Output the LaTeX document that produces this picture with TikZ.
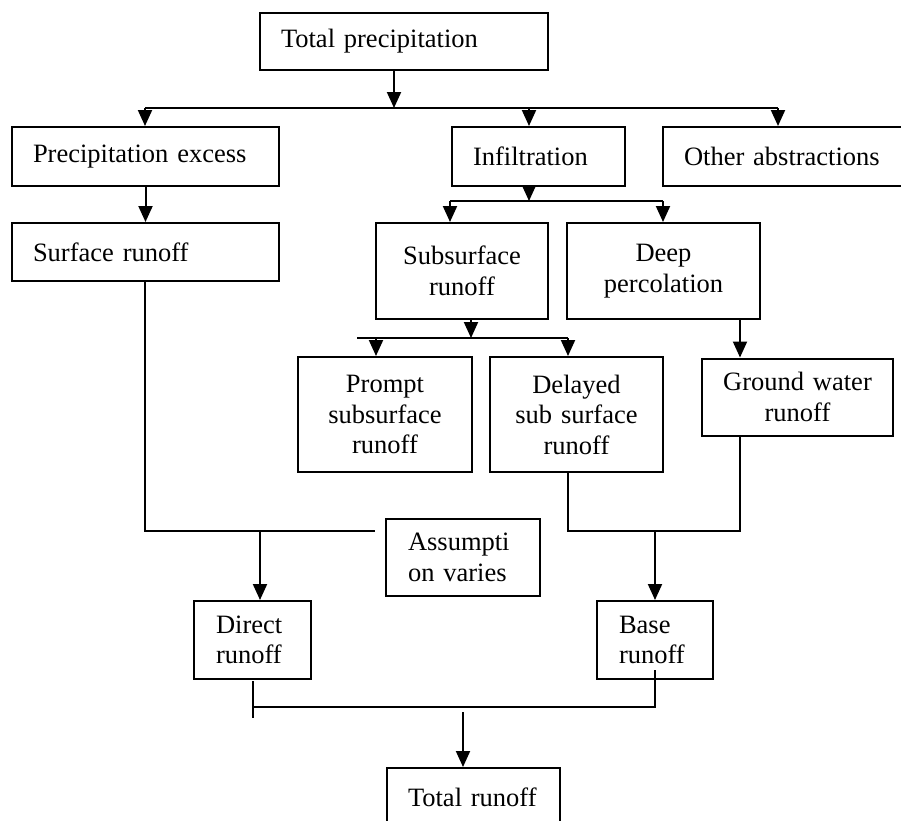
\documentclass[tikz,border=0pt]{standalone}
\usepackage{fontspec}
\setmainfont{Liberation Serif}
\usetikzlibrary{arrows.meta}
\begin{document}
\begin{tikzpicture}[x=1pt,y=-1pt,
  box/.style={draw, line width=2pt, rectangle, inner xsep=21pt, inner ysep=0pt,
    font=\fontsize{26.5}{30.5}\selectfont},
  lbox/.style={box, align=left},
  cbox/.style={box, align=center},
  conn/.style={line width=2pt},
  arr/.style={line width=2pt, -{Triangle[width=14pt,length=16pt]}}]
\useasboundingbox (0,0) rectangle (901,820);
% boxes
\node[lbox, text width=246pt, minimum width=288pt, minimum height=57pt] (tp) at (404,41.5) {Total precipitation};
\node[lbox, text width=225pt, minimum width=267pt, minimum height=59pt] (pe) at (145.5,156.5) {Precipitation excess};
\node[lbox, text width=131pt, minimum width=173pt, minimum height=59pt] (inf) at (538.5,156.5) {Infiltration};
\node[lbox, text width=200pt, minimum width=242pt, minimum height=59pt] (oa) at (784,156.5) {Other abstractions};
\node[lbox, text width=225pt, minimum width=267pt, minimum height=58pt] (sr) at (145.5,252) {Surface runoff};
\node[cbox, text width=130pt, minimum width=172pt, minimum height=96pt] (ss) at (462,271) {Subsurface\\runoff};
\node[cbox, text width=151pt, minimum width=193pt, minimum height=96pt] (dp) at (663.5,271) {Deep\\percolation};
\node[cbox, text width=132pt, minimum width=174pt, minimum height=115pt] (pr) at (385,414.5) {Prompt\\subsurface\\runoff};
\node[cbox, text width=131pt, minimum width=173pt, minimum height=115pt] (dl) at (576.5,414.5) {Delayed\\sub surface\\runoff};
\node[cbox, text width=149pt, minimum width=191pt, minimum height=77pt] (gw) at (797.5,397) {Ground water\\runoff};
\node[lbox, text width=110pt, inner xsep=22pt, minimum width=154pt, minimum height=77pt] (as) at (463,557.5) {Assumpti\\on varies};
\node[lbox, text width=73pt, inner xsep=22pt, minimum width=117pt, minimum height=78pt] (dr) at (252.5,640) {Direct\\runoff};
\node[lbox, text width=72pt, inner xsep=22pt, minimum width=116pt, minimum height=78pt] (br) at (655,640) {Base\\runoff};
\node[lbox, text width=131pt, minimum width=173pt, minimum height=58pt] (tr) at (473.5,797) {Total runoff};
% junction coordinates
\coordinate (j1) at (394,108);
\coordinate (jL) at (145,108);
\coordinate (jI) at (529,108);
\coordinate (jR) at (778,108);
\coordinate (k) at (529,201);
\coordinate (kL) at (450,201);
\coordinate (kR) at (663,201);
\coordinate (m) at (471,338);
\coordinate (mL0) at (357,338);
\coordinate (mL) at (376,338);
\coordinate (mR) at (568,338);
\coordinate (sC) at (145,531);
\coordinate (sE) at (375,531);
\coordinate (sA) at (260,531);
\coordinate (bL) at (568,531);
\coordinate (bR) at (740,531);
\coordinate (bA) at (655,531);
\coordinate (dT) at (253,681);
\coordinate (dB) at (253,718);
\coordinate (tL) at (253,707);
\coordinate (tR) at (655,707);
\coordinate (tA) at (463,712);
\coordinate (bT) at (655,670);
% connectors
\draw[arr] (j1 |- tp.south) -- (j1);
\draw[conn] (jL) -- (jR);
\draw[arr] (jL) -- (jL |- pe.north);
\draw[arr] (jI) -- (jI |- inf.north);
\draw[arr] (jR) -- (jR |- oa.north);
\draw[arr] (pe.south) -- (sr.north);
\draw[arr] (k |- inf.south) -- (k);
\draw[conn] (kL) -- (kR);
\draw[arr] (kL) -- (kL |- ss.north);
\draw[arr] (kR) -- (kR |- dp.north);
\draw[arr] (m |- ss.south) -- (m);
\draw[conn] (mL0) -- (mR);
\draw[arr] (mL) -- (mL |- pr.north);
\draw[arr] (mR) -- (mR |- dl.north);
\draw[arr] (bR |- dp.south) -- (bR |- gw.north);
\draw[conn] (sC |- sr.south) -- (sC) -- (sE);
\draw[arr] (sA) -- (sA |- dr.north);
\draw[conn] (bL |- dl.south) -- (bL) -- (bR) -- (bR |- gw.south);
\draw[arr] (bA) -- (bA |- br.north);
\draw[conn] (dT) -- (dB);
\draw[conn] (tL) -- (tR) -- (bT);
\draw[arr] (tA) -- (tA |- tr.north);
\end{tikzpicture}
\end{document}
